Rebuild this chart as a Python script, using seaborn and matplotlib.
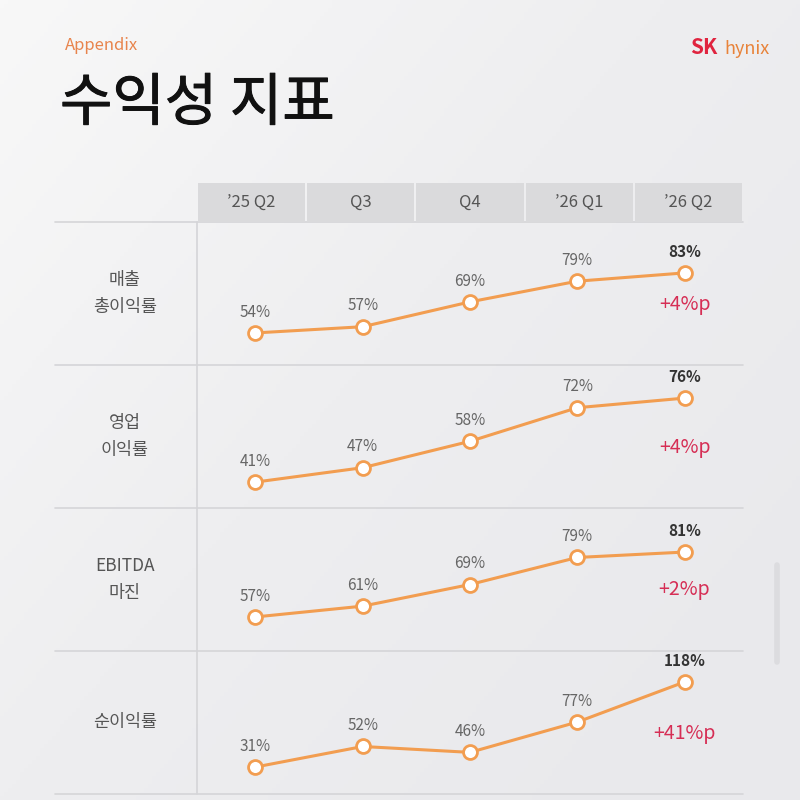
import matplotlib.pyplot as plt
import matplotlib.patheffects as pe
import numpy as np
import pandas as pd
import seaborn as sns
from matplotlib.colors import LinearSegmentedColormap

# chart data
quarters = ["’25 Q2", "Q3", "Q4", "’26 Q1", "’26 Q2"]
metrics = ["매출\n총이익률", "영업\n이익률", "EBITDA\n마진", "순이익률"]
gross_margin = [54, 57, 69, 79, 83]
operating_margin = [41, 47, 58, 72, 76]
ebitda_margin = [57, 61, 69, 79, 81]
net_margin = [31, 52, 46, 77, 118]
deltas = ["+4%p", "+4%p", "+2%p", "+41%p"]

series = [gross_margin, operating_margin, ebitda_margin, net_margin]

# each row has its own vertical scale on the slide
row_ylims = [(38.5, 107.6), (30.2, 89.8), (44.4, 97.3), (3.4, 149.7)]

ORANGE = "#F29D50"
RED = "#D62E55"
GRID = "#D5D5D8"

sns.set_theme(style="white")
plt.rcParams["font.family"] = ["Noto Sans CJK KR", "DejaVu Sans"]

W = H = 800
fig = plt.figure(figsize=(8, 8), dpi=100)


def fx(px):
    return px / W


def fy(px):
    return 1 - px / H


# soft grey background, lighter at the top left
bg = fig.add_axes([0, 0, 1, 1], zorder=-10)
gx, gy = np.meshgrid(np.linspace(0, 1, 200), np.linspace(0, 1, 200))
grad = np.clip(0.6 * gx + 0.5 * gy, 0, 1)
cmap = LinearSegmentedColormap.from_list("bg", ["#F8F8F8", "#EEEEF0", "#E9E9EC"])
bg.imshow(grad, cmap=cmap, vmin=0, vmax=1, aspect="auto", extent=[0, 1, 0, 1], origin="upper")
bg.set_axis_off()

# titles and logo
fig.text(fx(65), fy(46), "Appendix", color="#E8844C", fontsize=12, va="center")
fig.text(fx(60), fy(104), "수익성 지표", color="#111111", fontsize=41, va="center",
         path_effects=[pe.withStroke(linewidth=0.7, foreground="#111111")])
fig.text(fx(690), fy(48), "SK", color="#E0243F", fontsize=15, fontweight="bold", va="center")
fig.text(fx(724), fy(49), "hynix", color="#E8833A", fontsize=13, va="center")

# table geometry in pixels
left, right = 197, 743
label_left = 55
head_top, head_bot = 183, 222
row_h = 143
xlim = (-0.545, 4.545)

# header cells
hax = fig.add_axes([fx(left), fy(head_bot), fx(right - left), (head_bot - head_top) / H])
head_df = pd.DataFrame({"q": quarters, "h": [1] * len(quarters)})
sns.barplot(data=head_df, x="q", y="h", color="#DADADC", width=0.98, saturation=1,
            linewidth=0, ax=hax)
for i, q in enumerate(quarters):
    hax.text(i, 0.5, q, ha="center", va="center", fontsize=12, color="#555555")
hax.set_xlim(-0.5, 4.5)
hax.set_ylim(0, 1)
hax.set_axis_off()

# separators and the scroll bar of the screenshot
lax = fig.add_axes([0, 0, 1, 1], zorder=-5)
lax.set_xlim(0, W)
lax.set_ylim(H, 0)
lax.set_axis_off()
for k in range(len(metrics) + 1):
    y = head_bot + k * row_h
    lax.plot([label_left, right], [y, y], color=GRID, lw=1.2)
lax.plot([left, left], [head_bot, head_bot + row_h * len(metrics)], color=GRID, lw=1.2)
lax.plot([777, 777], [565, 662], color="#DCDCDF", lw=4, solid_capstyle="round")

for r, (name, vals, delta) in enumerate(zip(metrics, series, deltas)):
    top = head_bot + r * row_h
    ax = fig.add_axes([fx(left), fy(top + row_h), fx(right - left), row_h / H])
    ax.patch.set_alpha(0)
    df = pd.DataFrame({"x": range(len(quarters)), "v": vals})
    sns.lineplot(data=df, x="x", y="v", color=ORANGE, lw=2.2, marker="o",
                 markersize=10, markerfacecolor="white", markeredgecolor=ORANGE,
                 markeredgewidth=2, ax=ax)
    ax.set_ylim(*row_ylims[r])
    ax.set_xlim(*xlim)
    ax.set_axis_off()
    for i, v in enumerate(vals):
        last = i == len(vals) - 1
        ax.annotate(f"{v}%", (i, v), xytext=(0, 15), textcoords="offset points",
                    ha="center", va="center", fontsize=11,
                    color="#333333" if last else "#666666",
                    fontweight="bold" if last else "normal")
    ax.text(len(vals) - 1, 1 - 82 / row_h, delta, transform=ax.get_xaxis_transform(),
            ha="center", va="center", fontsize=14, color=RED)
    fig.text(fx(125), fy(top + row_h / 2), name, ha="center", va="center",
             fontsize=12.5, color="#555555", linespacing=1.7)

fig.savefig("out.png", dpi=100)
